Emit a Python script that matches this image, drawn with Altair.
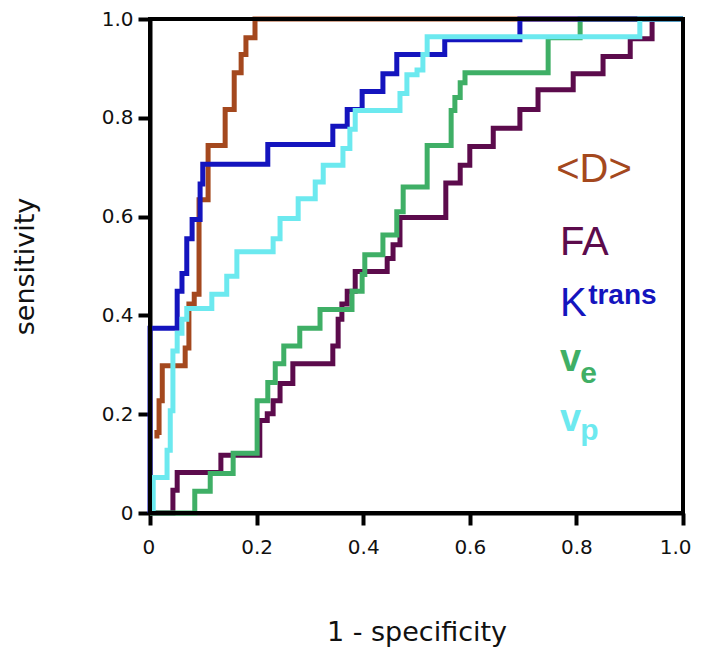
import altair as alt
import pandas as pd

# ---- data (1 - specificity, sensitivity) step corners ----
series_names = ["<D>", "FA", "Ktrans", "ve", "vp"]
series_colors = ["#A4481E", "#5C0B4C", "#1414BE", "#3FAF66", "#6CE9EF"]

d_x = [0.013, 0.017, 0.023, 0.066, 0.073, 0.083, 0.092, 0.109, 0.141, 0.158, 0.171, 0.180, 0.197, 1.0]
d_y = [0.151, 0.163, 0.227, 0.298, 0.334, 0.423, 0.443, 0.634, 0.744, 0.817, 0.891, 0.928, 0.962, 1.0]

fa_x = [0, 0.043, 0.051, 0.133, 0.206, 0.220, 0.231, 0.244, 0.268, 0.343, 0.353, 0.360, 0.370, 0.385,
        0.445, 0.456, 0.469, 0.555, 0.582, 0.600, 0.644, 0.694, 0.728, 0.794, 0.850, 0.901, 0.942, 1.0]
fa_y = [0, 0, 0.046, 0.082, 0.117, 0.187, 0.201, 0.227, 0.262, 0.302, 0.338, 0.392, 0.423, 0.449,
        0.489, 0.515, 0.543, 0.598, 0.668, 0.704, 0.742, 0.779, 0.817, 0.857, 0.889, 0.924, 0.960, 1.0]

kt_x = [0, 0.051, 0.060, 0.069, 0.079, 0.094, 0.099, 0.221, 0.343, 0.370, 0.398, 0.437, 0.463, 0.553, 0.694, 1.0]
kt_y = [0, 0.374, 0.449, 0.485, 0.555, 0.594, 0.666, 0.706, 0.746, 0.783, 0.817, 0.853, 0.889, 0.928, 0.958, 1.0]

ve_x = [0, 0.084, 0.113, 0.156, 0.201, 0.221, 0.235, 0.251, 0.281, 0.319, 0.379, 0.398, 0.403, 0.437,
        0.463, 0.475, 0.520, 0.565, 0.572, 0.582, 0.591, 0.747, 0.807, 1.0]
ve_y = [0, 0, 0.044, 0.080, 0.121, 0.227, 0.264, 0.302, 0.338, 0.374, 0.412, 0.449, 0.483, 0.523,
        0.563, 0.610, 0.660, 0.744, 0.815, 0.841, 0.871, 0.891, 0.962, 1.0]

vp_x = [0.006, 0.032, 0.038, 0.043, 0.051, 0.060, 0.069, 0.116, 0.144, 0.163, 0.231, 0.244, 0.278,
        0.310, 0.325, 0.362, 0.375, 0.385, 0.469, 0.482, 0.501, 0.512, 0.520, 0.919, 1.0]
vp_y = [0, 0.072, 0.127, 0.207, 0.328, 0.364, 0.392, 0.414, 0.443, 0.479, 0.529, 0.555, 0.596,
        0.636, 0.670, 0.704, 0.738, 0.777, 0.815, 0.849, 0.887, 0.897, 0.928, 0.964, 1.0]

tick_values = [0, 0.2, 0.4, 0.6, 0.8, 1.0]

series_data = {"<D>": (d_x, d_y), "FA": (fa_x, fa_y), "Ktrans": (kt_x, kt_y),
               "ve": (ve_x, ve_y), "vp": (vp_x, vp_y)}
draw_order = ["<D>", "FA", "ve", "Ktrans", "vp"]

W, H = 533, 494
AX_FONT = "DejaVu Sans"
LBL_FONT = "Liberation Sans"

xs = alt.Scale(domain=[0, 1], nice=False, zero=False)
ys = alt.Scale(domain=[0, 1], nice=False, zero=False)
label_expr = "datum.value == 0 ? '0' : format(datum.value, '.1f')"

x_axis = alt.Axis(values=tick_values, title="1 - specificity", labelExpr=label_expr,
                  labelFlush=True, labelFlushOffset=8, labelPadding=12, titlePadding=62)
y_axis = alt.Axis(values=tick_values, title="sensitivity", labelExpr=label_expr,
                  labelFlush=False, labelPadding=5, titlePadding=62)
color_scale = alt.Scale(domain=series_names, range=series_colors)

layers = []
for name in draw_order:
    sx, sy = series_data[name]
    df = pd.DataFrame({"fpr": sx, "tpr": sy, "i": list(range(len(sx))), "series": name})
    layers.append(
        alt.Chart(df).mark_line(interpolate="step-before", strokeWidth=5).encode(
            x=alt.X("fpr:Q", scale=xs, axis=x_axis),
            y=alt.Y("tpr:Q", scale=ys, axis=y_axis),
            color=alt.Color("series:N", scale=color_scale, legend=None),
            order=alt.Order("i:Q"),
        )
    )

# frame on top
frame_df = pd.DataFrame({"fpr": [0], "fpr2": [1], "tpr": [0], "tpr2": [1]})
frame = alt.Chart(frame_df).mark_rect(fillOpacity=0, stroke="black", strokeWidth=4).encode(
    x=alt.X("fpr:Q", scale=xs, axis=x_axis), x2="fpr2:Q",
    y=alt.Y("tpr:Q", scale=ys, axis=y_axis), y2="tpr2:Q",
)
layers.append(frame)

# in-plot labels (text, colour, position in data units, size, weight)
labels = [
    ("<D>", series_colors[0], 0.762, 0.670, 40, "normal"),
    ("FA", series_colors[1], 0.769, 0.523, 40, "normal"),
    ("K", series_colors[2], 0.769, 0.398, 40, "normal"),
    ("trans", series_colors[2], 0.822, 0.4225, 28, "bold"),
    ("v", series_colors[3], 0.769, 0.288, 38, "bold"),
    ("e", series_colors[3], 0.807, 0.264, 30, "bold"),
    ("v", series_colors[4], 0.769, 0.167, 38, "bold"),
    ("p", series_colors[4], 0.807, 0.147, 30, "bold"),
]
for txt, col, lx, ly, size, weight in labels:
    ldf = pd.DataFrame({"t": [txt], "fpr": [lx], "tpr": [ly]})
    layers.append(
        alt.Chart(ldf).mark_text(
            align="left", baseline="alphabetic", font=LBL_FONT, fontSize=size,
            fontWeight=weight, color=col
        ).encode(
            x=alt.X("fpr:Q", scale=xs, axis=x_axis),
            y=alt.Y("tpr:Q", scale=ys, axis=y_axis),
            text="t:N",
        )
    )

chart = alt.layer(*layers).properties(
    width=W, height=H,
    autosize=alt.AutoSizeParams(type="none"),
    padding={"left": 142, "top": 11, "right": 11, "bottom": 134},
    background="white",
).configure_view(stroke=None).configure_axis(
    grid=False, domainColor="black", domainWidth=4, tickColor="black", tickWidth=4,
    tickSize=12, labelFont=AX_FONT, labelFontSize=20, labelColor="#111111",
    titleFont=AX_FONT, titleFontSize=27, titleFontWeight="normal", titleColor="#111111",
)

chart.save("out.html", embed_options={"renderer": "svg", "actions": False})
